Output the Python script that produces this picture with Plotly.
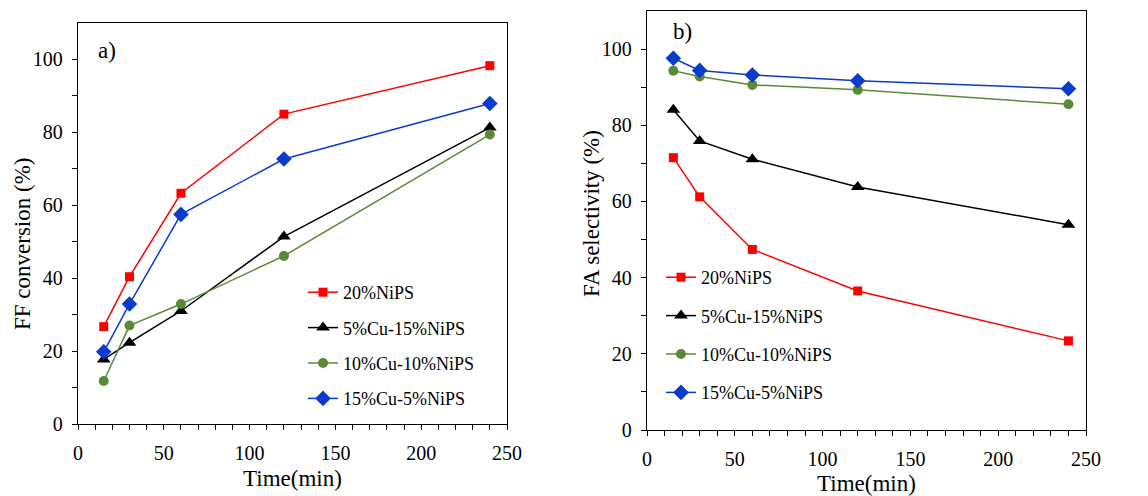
import plotly.graph_objects as go

# ---------------- data ----------------
time_min = [15, 30, 60, 120, 240]

series_names = ["20%NiPS", "5%Cu-15%NiPS", "10%Cu-10%NiPS", "15%Cu-5%NiPS"]

# panel a) FF conversion (%)
conv_20NiPS = [26.7, 40.4, 63.3, 85.0, 98.3]
conv_5Cu15Ni = [17.7, 22.3, 31.0, 51.4, 81.3]
conv_10Cu10Ni = [11.8, 27.0, 32.9, 46.1, 79.4]
conv_15Cu5Ni = [19.8, 32.9, 57.5, 72.7, 87.9]

# panel b) FA selectivity (%)
sel_20NiPS = [71.5, 61.2, 47.4, 36.5, 23.4]
sel_5Cu15Ni = [84.1, 75.9, 71.1, 63.8, 53.9]
sel_10Cu10Ni = [94.3, 92.8, 90.6, 89.3, 85.5]
sel_15Cu5Ni = [97.6, 94.4, 93.2, 91.7, 89.6]

x_ticks = [0, 50, 100, 150, 200, 250]
y_ticks = [0, 20, 40, 60, 80, 100]

# ---------------- styles ----------------
colors = ["#FF0000", "#000000", "#5A8A37", "#0A3CCC"]
symbols = ["square", "triangle-up", "circle", "diamond"]
sizes = [9, 12, 10, 12]
FONT = "Liberation Serif, Times New Roman, serif"

W, H = 1148, 496


def px_x(p):
    return p / W


def px_y(p):
    return 1 - p / H


fig = go.Figure()

conv = [conv_20NiPS, conv_5Cu15Ni, conv_10Cu10Ni, conv_15Cu5Ni]
sel = [sel_20NiPS, sel_5Cu15Ni, sel_10Cu10Ni, sel_15Cu5Ni]

for i, name in enumerate(series_names):
    fig.add_trace(go.Scatter(
        x=time_min, y=conv[i], name=name, mode="lines+markers",
        line=dict(color=colors[i], width=1.5),
        marker=dict(symbol=symbols[i], size=sizes[i], color=colors[i]),
        xaxis="x", yaxis="y", legend="legend", legendgroup="a%d" % i,
    ))
for i, name in enumerate(series_names):
    fig.add_trace(go.Scatter(
        x=time_min, y=sel[i], name=name, mode="lines+markers",
        line=dict(color=colors[i], width=1.5),
        marker=dict(symbol=symbols[i], size=sizes[i], color=colors[i]),
        xaxis="x2", yaxis="y2", legend="legend2", legendgroup="b%d" % i,
    ))

axis_common = dict(
    showgrid=False, zeroline=False, showline=True, linecolor="black",
    linewidth=1.4, mirror=True, ticks="outside", ticklen=5, tickwidth=1.3,
    tickcolor="black", tickfont=dict(family=FONT, size=20, color="black"),
    automargin=False,
)

xa = dict(axis_common, range=[0, 250], tickvals=x_ticks, ticklabelstandoff=6,
          minor=dict(dtick=10, tick0=0, ticks="outside", ticklen=5, tickwidth=1.3, tickcolor="black"),
          title=dict(text="Time(min)", font=dict(family=FONT, size=23, color="black"), standoff=6))
ya = dict(axis_common, range=[0, 110], tickvals=y_ticks, ticklabelstandoff=5,
          minor=dict(tickvals=[10, 30, 50, 70, 90], ticks="outside", ticklen=5, tickwidth=1.3, tickcolor="black"))

legend_common = dict(
    font=dict(family=FONT, size=18, color="black"),
    bgcolor="rgba(0,0,0,0)", borderwidth=0,
    xanchor="left", yanchor="top", traceorder="grouped",
)

fig.update_layout(
    width=W, height=H,
    margin=dict(l=0, r=0, t=0, b=0),
    paper_bgcolor="white", plot_bgcolor="white",
    font=dict(family=FONT, color="black"),
    xaxis=dict(xa, domain=[px_x(78), px_x(507)], anchor="y"),
    yaxis=dict(ya, domain=[px_y(424), px_y(23)], anchor="x"),
    xaxis2=dict(xa, domain=[px_x(647), px_x(1086)], anchor="y2"),
    yaxis2=dict(ya, domain=[px_y(430), px_y(11)], anchor="x2"),
    legend=dict(legend_common, x=px_x(303), y=px_y(274), tracegroupgap=9),
    legend2=dict(legend_common, x=px_x(661), y=px_y(259), tracegroupgap=12),
    annotations=[
        dict(text="a)", x=px_x(96), y=px_y(50), xref="paper", yref="paper",
             xanchor="left", yanchor="middle", showarrow=False,
             font=dict(family=FONT, size=23, color="black")),
        dict(text="b)", x=px_x(671), y=px_y(31), xref="paper", yref="paper",
             xanchor="left", yanchor="middle", showarrow=False,
             font=dict(family=FONT, size=23, color="black")),
        dict(text="FF conversion (%)", x=px_x(22), y=px_y(244), xref="paper", yref="paper",
             xanchor="center", yanchor="middle", textangle=-90, showarrow=False,
             font=dict(family=FONT, size=23, color="black")),
        dict(text="FA selectivity (%)", x=px_x(592), y=px_y(214), xref="paper", yref="paper",
             xanchor="center", yanchor="middle", textangle=-90, showarrow=False,
             font=dict(family=FONT, size=23, color="black")),
    ],
)

fig.write_html("out.html")
